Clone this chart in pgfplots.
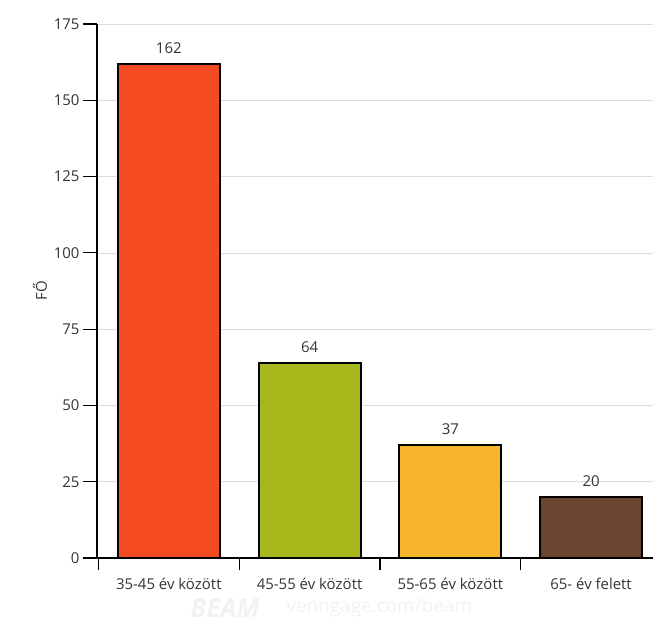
\documentclass[border=0pt]{standalone}
\usepackage{pgfplots}
\pgfplotsset{compat=1.18}
\usepackage{fontspec}
\setmainfont{Open Sans}
\definecolor{cA}{HTML}{F44B22}
\definecolor{cB}{HTML}{A8B81C}
\definecolor{cC}{HTML}{F6B52A}
\definecolor{cD}{HTML}{6B4530}
\definecolor{gridc}{HTML}{DDDDDD}
\definecolor{txt}{HTML}{333333}
\begin{document}
\begin{tikzpicture}[x=1bp,y=1bp]
\path[use as bounding box] (-97bp,-66bp) rectangle (556bp,558bp);
\begin{axis}[
  at={(0,0)}, anchor=south west,
  scale only axis,
  width=556bp, height=534bp,
  xmin=-0.51, xmax=3.44,
  ymin=0, ymax=175,
  ytick={0,25,...,175},
  xtick={0,1,2,3},
  xticklabels={35-45 év között,45-55 év között,55-65 év között,65- év felett},
  minor xtick={-0.5,0.5,1.5,2.5},
  axis x line*=bottom,
  axis y line*=left,
  axis line style={line width=1.8bp, black, -},
  tick style={line width=1.2bp, black},
  major tick length=14bp,
  minor tick length=12bp,
  xtick style={draw=none},
  xtick align=outside, ytick align=outside,
  minor x tick style={draw=black, line width=1.2bp},
  ymajorgrids,
  grid style={gridc, line width=0.6bp},
  /pgf/number format/assume math mode=true,
  tick label style={font=\fontsize{15}{18}\selectfont, text=txt},
  yticklabel style={xshift=0bp},
  xticklabel style={yshift=-3bp},
  ylabel={FŐ},
  ylabel style={font=\fontsize{15}{18}\selectfont, text=txt, yshift=0bp},
  ybar, bar width=0.725,
  bar shift=0pt,
  nodes near coords,
  every node near coord/.append style={font=\fontsize{15}{18}\selectfont, text=txt, yshift=6bp},
  clip=false,
]
\addplot[fill=cA, draw=black, line width=2bp] coordinates {(0,162)};
\addplot[fill=cB, draw=black, line width=2bp] coordinates {(1,64)};
\addplot[fill=cC, draw=black, line width=2bp] coordinates {(2,37)};
\addplot[fill=cD, draw=black, line width=2bp] coordinates {(3,20)};
\end{axis}
\node[text=black!5, font=\fontsize{26}{28}\selectfont\bfseries\itshape, anchor=east] at (166bp,-50bp) {BEAM};
\node[text=black!5, font=\fontsize{19}{21}\selectfont, anchor=west] at (186bp,-50bp) {venngage.com/beam};
\end{tikzpicture}
\end{document}
